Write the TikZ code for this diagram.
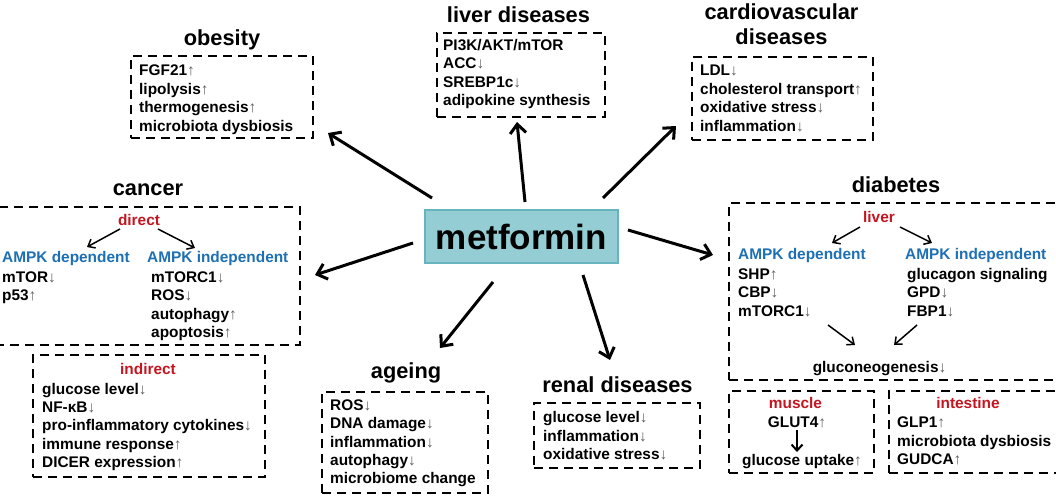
\documentclass[tikz,border=0pt]{standalone}
\usepackage{fontspec}
\setmainfont{Liberation Sans}
\usetikzlibrary{arrows.meta}
\definecolor{dred}{RGB}{196,22,32}
\definecolor{dblue}{RGB}{30,112,180}
\definecolor{metfill}{RGB}{148,206,212}
\definecolor{metdraw}{RGB}{104,180,190}
\definecolor{arrgray}{RGB}{95,95,95}
\newcommand{\upa}{{\mdseries\color{arrgray}↑}}
\newcommand{\dna}{{\mdseries\color{arrgray}↓}}
\tikzset{
  dbox/.style={draw, line width=2.4pt, dash pattern=on 9pt off 6pt, inner sep=0pt},
  txt/.style={inner sep=0pt, anchor=base west, font=\fontsize{15.4}{18}\selectfont\bfseries},
  ttl/.style={inner sep=0pt, anchor=base, font=\fontsize{21.8}{24}\selectfont\bfseries},
  redt/.style={txt, anchor=base, text=dred},
  bluet/.style={txt, text=dblue},
  ctxt/.style={txt, anchor=base},
  bigarrow/.style={line width=3pt, -{Straight Barb[length=9pt,width=16pt]}},
  smallarrow/.style={line width=1.5pt, -{Straight Barb[length=6pt,width=10pt]}},
}
\begin{document}
\begin{tikzpicture}[x=1pt,y=-1pt]
\useasboundingbox (0,0) rectangle (1056,496);
\fill[white] (0,0) rectangle (1056,496);

% central node
\node[draw=metdraw, fill=metfill, line width=2.5pt, minimum width=193pt, minimum height=53pt,
      inner sep=0pt, font=\fontsize{35}{40}\selectfont\bfseries] (met) at (521.5,236.5) {metformin};

% ---------- obesity
\node[ttl] (obt) at (222,45) {obesity};
\node[dbox, minimum width=182pt, minimum height=82pt] (obbox) at (222,97) {};
\foreach \t [count=\i] in {FGF21\upa, lipolysis\upa, thermogenesis\upa, microbiota dysbiosis}
  \node[txt] (ob\i) at (139,{75.5+18.5*(\i-1)}) {\t};

% ---------- liver diseases
\node[ttl] (livt) at (518.5,22) {liver diseases};
\node[dbox, minimum width=168pt, minimum height=84pt] (livbox) at (521,75) {};
\foreach \t [count=\i] in {PI3K/AKT/mTOR, ACC\dna, SREBP1c\dna, adipokine synthesis}
  \node[txt] (lv\i) at (443,{50.5+18.3*(\i-1)}) {\t};

% ---------- cardiovascular diseases
\node[ttl] (cvt1) at (781.5,19) {cardiovascular};
\node[ttl] (cvt2) at (781.5,44) {diseases};
\node[dbox, minimum width=181pt, minimum height=83pt] (cvbox) at (782.5,98.5) {};
\foreach \t [count=\i] in {LDL\dna, cholesterol transport\upa, oxidative stress\dna, inflammation\dna}
  \node[txt] (cv\i) at (700,{75.5+18.6*(\i-1)}) {\t};

% ---------- cancer
\node[ttl] (cat) at (148,195) {cancer};
\node[dbox, minimum width=305pt, minimum height=138pt] (cabox) at (147.5,276) {};
\node[redt] (cadir) at (139,225.5) {direct};
\node[bluet] (cadep) at (2,262.5) {AMPK dependent};
\node[bluet] (caind) at (147,262.5) {AMPK independent};
\foreach \t [count=\i] in {mTOR\dna, p53\upa}
  \node[txt] (cd\i) at (2,{282.5+18.3*(\i-1)}) {\t};
\foreach \t [count=\i] in {mTORC1\dna, ROS\dna, autophagy\upa, apoptosis\upa}
  \node[txt] (ci\i) at (151,{282.5+18.3*(\i-1)}) {\t};
\coordinate (cas1) at (120,229); \coordinate (cae1) at (87,247);
\coordinate (cas2) at (158,229); \coordinate (cae2) at (195,248);
\draw[smallarrow] (cas1) -- (cae1);
\draw[smallarrow] (cas2) -- (cae2);

% indirect
\node[dbox, minimum width=232pt, minimum height=122pt] (inbox) at (149,416) {};
\node[redt] (indir) at (148,374.5) {indirect};
\foreach \t [count=\i] in {glucose level\dna, NF-κB\dna, pro-inflammatory cytokines\dna, immune response\upa, DICER expression\upa}
  \node[txt] (id\i) at (42,{394.5+18.2*(\i-1)}) {\t};

% ---------- diabetes
\node[ttl] (dit) at (896,192) {diabetes};
\node[dbox, minimum width=337pt, minimum height=177pt] (dibox) at (897.5,291.5) {};
\node[redt] (diliv) at (879,222.5) {liver};
\node[bluet] (didep) at (738,259.5) {AMPK dependent};
\node[bluet] (diind) at (905,259.5) {AMPK independent};
\foreach \t [count=\i] in {SHP\upa, CBP\dna, mTORC1\dna}
  \node[txt] (dd\i) at (738,{279+18.8*(\i-1)}) {\t};
\foreach \t [count=\i] in {glucagon signaling, GPD\dna, FBP1\dna}
  \node[txt] (dn\i) at (907,{279+18.8*(\i-1)}) {\t};
\node[ctxt] (digl) at (879.5,372.5) {gluconeogenesis\dna};
\coordinate (dis1) at (860,227); \coordinate (die1) at (832,243);
\coordinate (dis2) at (900,227); \coordinate (die2) at (932,243);
\coordinate (dis3) at (828,325); \coordinate (die3) at (855,345);
\coordinate (dis4) at (917,325); \coordinate (die4) at (894,345);
\draw[smallarrow] (dis1) -- (die1);
\draw[smallarrow] (dis2) -- (die2);
\draw[smallarrow] (dis3) -- (die3);
\draw[smallarrow] (dis4) -- (die4);

% muscle
\node[dbox, minimum width=145pt, minimum height=82pt] (mubox) at (801.5,432) {};
\node[redt] (mut) at (795.5,408.5) {muscle};
\node[ctxt] (mu1) at (797,427.5) {GLUT4\upa};
\node[ctxt] (mu2) at (802,465.5) {glucose uptake\upa};
\coordinate (mus) at (797,430); \coordinate (mue) at (797,452);
\draw[line width=2pt, -{Straight Barb[length=6pt,width=11pt]}] (mus) -- (mue);

% intestine
\node[dbox, minimum width=177pt, minimum height=82pt] (itbox) at (977.5,432) {};
\node[redt] (itt) at (968,408.5) {intestine};
\foreach \t [count=\i] in {GLP1\upa, microbiota dysbiosis, GUDCA\upa}
  \node[txt] (it\i) at (897,{427.5+18.5*(\i-1)}) {\t};

% ---------- ageing
\node[ttl] (agt) at (406,378.5) {ageing};
\node[dbox, minimum width=166pt, minimum height=101pt] (agbox) at (405,442.5) {};
\foreach \t [count=\i] in {ROS\dna, DNA damage\dna, inflammation\dna, autophagy\dna, microbiome change}
  \node[txt] (ag\i) at (330,{410.5+18.3*(\i-1)}) {\t};

% ---------- renal diseases
\node[ttl] (ret) at (617.5,392.5) {renal diseases};
\node[dbox, minimum width=166pt, minimum height=65pt] (rebox) at (617,435.5) {};
\foreach \t [count=\i] in {glucose level\dna, inflammation\dna, oxidative stress\dna}
  \node[txt] (re\i) at (543,{422.5+18.5*(\i-1)}) {\t};

% ---------- main arrows
\coordinate (s1) at (432,198); \coordinate (e1) at (328,133);
\coordinate (s2) at (525,202); \coordinate (e2) at (517,122);
\coordinate (s3) at (603,198); \coordinate (e3) at (676,126);
\coordinate (s4) at (628,230); \coordinate (e4) at (713,255);
\coordinate (s5) at (413,243); \coordinate (e5) at (315,275);
\coordinate (s6) at (493,282); \coordinate (e6) at (440,348);
\coordinate (s7) at (583,275); \coordinate (e7) at (610,360);
\foreach \k in {1,...,7} \draw[bigarrow] (s\k) -- (e\k);
\end{tikzpicture}
\end{document}
